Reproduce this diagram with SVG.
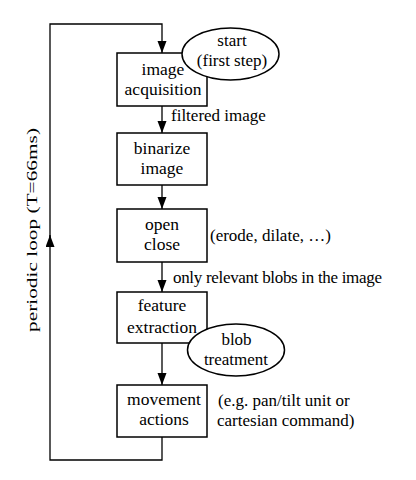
<svg xmlns="http://www.w3.org/2000/svg" width="416" height="480" viewBox="0 0 416 480" font-family="'Liberation Serif', 'DejaVu Serif', serif">
<style>
.box{fill:#fff;stroke:#000;stroke-width:1.5}
.ell{fill:#fff;stroke:#000;stroke-width:1.5}
.ln{fill:none;stroke:#000;stroke-width:1.3}
.bt{font-size:17.5px;text-anchor:middle}
.lb{font-size:17px}
.et{font-size:17px;text-anchor:middle}
</style>
<defs>
<marker id="ah" markerUnits="userSpaceOnUse" markerWidth="12" markerHeight="10" refX="12" refY="4.5" orient="auto">
<path d="M0,0 L12,4.5 L0,9 Z" fill="#000"/>
</marker>
</defs>
<rect width="416" height="480" fill="#fff"/>
<g id="connectors">
<path class="ln" d="M162,437 V460 H50 V235" marker-end="url(#ah)"/>
<path class="ln" d="M50,240 V24 H162 V53" marker-end="url(#ah)"/>
<path class="ln" d="M162,106 V133" marker-end="url(#ah)"/>
<path class="ln" d="M162,185 V209" marker-end="url(#ah)"/>
<path class="ln" d="M162,262 V292" marker-end="url(#ah)"/>
<path class="ln" d="M162,343 V385" marker-end="url(#ah)"/>
</g>
<g id="loop-label">
<text transform="translate(37,332) rotate(-90)" font-size="15" textLength="204" lengthAdjust="spacingAndGlyphs">periodic loop (T=66ms)</text>
</g>
<g id="acquisition">
<rect class="box" x="117" y="53" width="90" height="53"/>
<text class="bt" x="163" y="75">image</text>
<text class="bt" x="163" y="95">acquisition</text>
</g>
<g id="start">
<ellipse class="ell" cx="230.5" cy="54" rx="48.5" ry="26"/>
<text class="et" x="232" y="46">start</text>
<text class="et" x="232" y="66">(first step)</text>
</g>
<text class="lb" x="171" y="121">filtered image</text>
<g id="binarize">
<rect class="box" x="117" y="133" width="90" height="52"/>
<text class="bt" x="162" y="154">binarize</text>
<text class="bt" x="162" y="174">image</text>
</g>
<g id="openclose">
<rect class="box" x="117" y="209" width="90" height="53"/>
<text class="bt" x="162" y="230">open</text>
<text class="bt" x="162" y="250">close</text>
</g>
<text class="lb" x="210" y="241">(erode, dilate, …)</text>
<text class="lb" x="173" y="283" textLength="209">only relevant blobs in the image</text>
<g id="feature">
<rect class="box" x="117" y="292" width="90" height="51"/>
<text class="bt" x="162" y="311">feature</text>
<text class="bt" x="162" y="333">extraction</text>
</g>
<g id="blob">
<ellipse class="ell" cx="236" cy="350" rx="48.5" ry="26"/>
<text class="et" x="236.5" y="345" font-size="16.5">blob</text>
<text class="et" x="236" y="365" font-size="16.5">treatment</text>
</g>
<g id="movement">
<rect class="box" x="117" y="385" width="90" height="52"/>
<text class="bt" x="164" y="405">movement</text>
<text class="bt" x="164" y="425">actions</text>
</g>
<text class="lb" x="218" y="406">(e.g. pan/tilt unit or</text>
<text class="lb" x="217" y="426">cartesian command)</text>
</svg>
